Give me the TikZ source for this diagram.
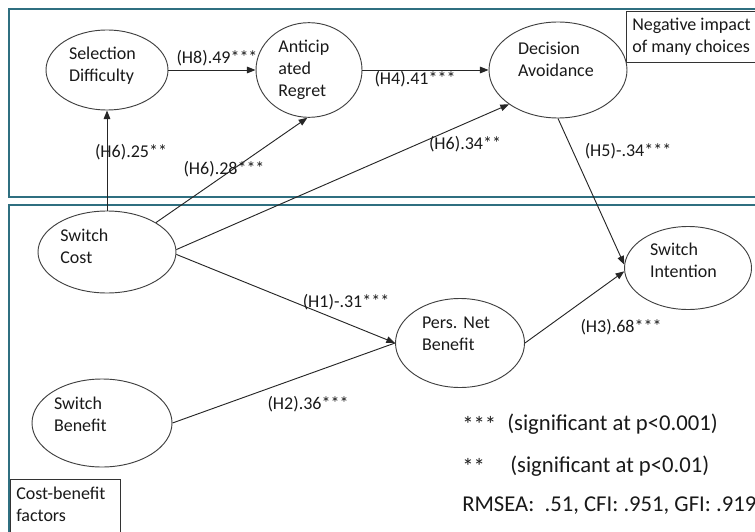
\documentclass[tikz,border=0pt]{standalone}
\usepackage{fontspec}
\setmainfont{Carlito}
\usetikzlibrary{shapes.geometric,arrows.meta}
\definecolor{frameteal}{HTML}{2F6F80}
\definecolor{ovalgray}{HTML}{404040}
\newcommand{\lift}[1]{\\[#1]\mbox{}}
\begin{document}
\begin{tikzpicture}[x=0.75pt,y=-0.75pt,
  construct/.style={ellipse,draw=ovalgray,line width=0.7pt,inner sep=0pt,
    text width=57pt,align=left,font=\fontsize{13.5}{16.5}\selectfont},
  effect/.style={draw=black!85,line width=0.7pt,-{Triangle[length=6.5pt,width=5pt]}},
  link/.style={draw=black!85,line width=0.7pt},
  coef/.style={inner sep=0pt,font=\fontsize{13.5}{16}\selectfont},
  panel/.style={draw=frameteal,line width=2.2pt},
  tag/.style={inner sep=0pt,anchor=north west,align=left,font=\fontsize{13.5}{16}\selectfont},
  legend/.style={inner sep=0pt,anchor=west,font=\fontsize{17}{20}\selectfont}]
  \useasboundingbox (0,0) rectangle (755,531);
  \clip (0,0) rectangle (755,531);
  \tikzstyle{every node}+=[text=black!90]
  % the two panels
  \draw [panel] (9,9) rectangle (790,197);
  \draw [panel] (9,205) rectangle (790,570);
  \draw [black!80,fill=white,line width=0.6pt] (626,11) rectangle (790,62);
  \node [tag] (negtag) at (632,18) {Negative impact\\of many choices};
  \draw [black!80,fill=white,line width=0.6pt] (10,479) rectangle (120,560);
  \node [tag] (costtag) at (16,487) {Cost-benefit\\factors};
  % constructs
  \node [construct,minimum width=91.5pt,minimum height=60pt] (seldiff) at (107,70)
    {Selection\\Difficulty\lift{-8pt}};
  \node [construct,minimum width=79.5pt,minimum height=71pt,text width=46pt] (regret) at (309,70)
    {Anticip\\ated\\Regret};
  \node [construct,minimum width=103.5pt,minimum height=72pt,text width=60pt] (decision) at (558,70)
    {Decision\\Avoidance\lift{-1pt}};
  \node [construct,minimum width=103.5pt,minimum height=61.5pt,text width=70pt] (scost) at (107,252)
    {Switch\\Cost\lift{-8pt}};
  \node [construct,minimum width=105pt,minimum height=66pt,text width=72pt] (sbenefit) at (102,423)
    {Switch\\Benefit\lift{-3pt}};
  \node [construct,minimum width=96.75pt,minimum height=66.75pt] (pnb) at (460,343)
    {Pers.\ Net\\Benefit\lift{-3pt}};
  \node [construct,minimum width=95.25pt,minimum height=62.25pt] (sint) at (688,268)
    {Switch\\Intention\lift{-5pt}};
  % paths
  \draw [effect] (seldiff.east) -- (regret.west);
  \draw [effect] (regret.east) -- (decision.west);
  \draw [effect] (scost.north) -- (seldiff.south);
  \draw [effect] (scost.31) -- (regret.268);
  \draw [effect] (scost.2) -- (decision.215);
  \draw [effect] (scost.-2) -- (pnb.west);
  \draw [link] (sbenefit.east) -- (pnb.west);
  \draw [effect] (decision.south) -- (sint.177);
  \draw [effect] (pnb.east) -- (sint.183);
  % coefficients
  \node [coef] (h8) at (217,58) {(H8).49***};
  \node [coef] (h4) at (415,79) {(H4).41***};
  \node [coef] (h6a) at (131,152) {(H6).25**};
  \node [coef] (h6b) at (224,169) {(H6).28***};
  \node [coef] (h6c) at (465,144) {(H6).34**};
  \node [coef] (h5) at (628,151) {(H5)-.34***};
  \node [coef] (h1) at (346,302) {(H1)-.31***};
  \node [coef] (h2) at (308,404) {(H2).36***};
  \node [coef] (h3) at (621,327) {(H3).68***};
  % legend
  \node [legend] (star3) at (462,424) {***};
  \node [legend] (sig3) at (507,424) {(significant at p<0.001)};
  \node [legend] (star2) at (462,466) {**};
  \node [legend] (sig2) at (510,466) {(significant at p<0.01)};
  \node [legend] (fit) at (462,506) {RMSEA:\ \ .51, CFI: .951, GFI: .919};
\end{tikzpicture}
\end{document}
